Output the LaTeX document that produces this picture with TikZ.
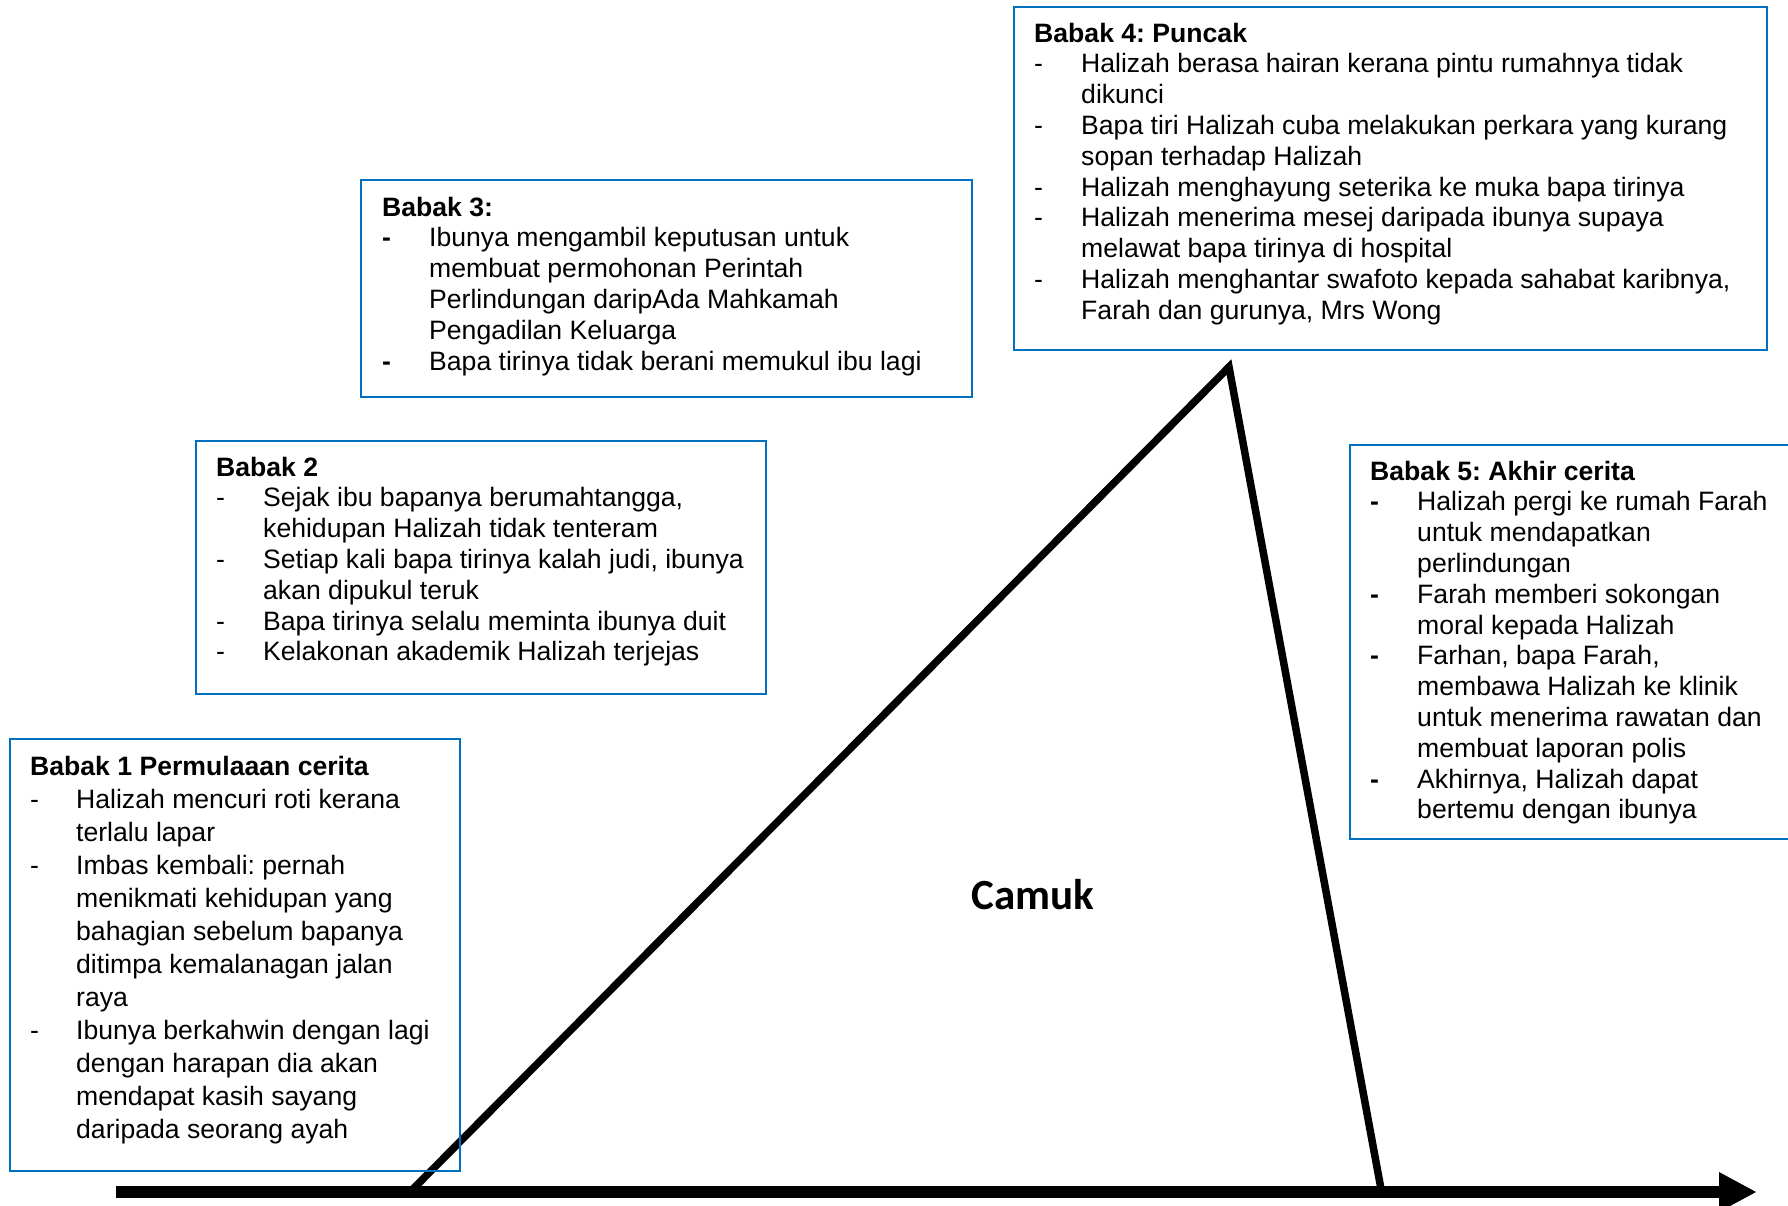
\documentclass[tikz,border=0pt]{standalone}
\usepackage{fontspec}
\setmainfont{Liberation Sans}
\newfontfamily\camukfont{Carlito}
\usepackage{array}
\frenchspacing
\definecolor{boxblue}{RGB}{0,112,192}
\tikzset{
  boxframe/.style={draw=boxblue, line width=2.2pt},
  boxtext/.style={anchor=base west, inner sep=0pt, font=\fontsize{26.6}{30.8}\selectfont},
  boxtextwide/.style={anchor=base west, inner sep=0pt, font=\fontsize{26.6}{33}\selectfont},
  plotline/.style={line width=7.5pt, line join=miter},
  axisline/.style={line width=12pt},
}
\newcommand{\ttl}[1]{\multicolumn{2}{@{}l@{}}{\textbf{#1}}}
\begin{document}
\begin{tikzpicture}[x=1pt,y=-1pt]
\useasboundingbox (0,0) rectangle (1788,1205);
\clip (0,0) rectangle (1788,1205);
\fill[white] (0,0) rectangle (1788,1205);

% axis
\coordinate (axstart) at (116,1192);
\coordinate (axend) at (1722,1192);
\coordinate (tip) at (1756,1192);
\draw[axisline] (axstart) -- (axend);
\fill (1719,1172) -- (tip) -- (1719,1212) -- cycle;

% triangle
\coordinate (footL) at (413,1189);
\coordinate (apex) at (1229,367);
\coordinate (footR) at (1381,1189);
\draw[plotline] (footL) -- (apex) -- (footR);

\node[font=\camukfont\bfseries\fontsize{43}{50}\selectfont] (camuk) at (1033,895) {Camuk};

% Box 1
\draw[boxframe] (10,739) rectangle (460,1171);
\node[boxtextwide] (b1) at (30,775) {\begin{tabular}[t]{@{}p{46pt}@{}l@{}}
\ttl{Babak 1 Permulaaan cerita}\\
- & Halizah mencuri roti kerana\\
& terlalu lapar\\
- & Imbas kembali: pernah\\
& menikmati kehidupan yang\\
& bahagian sebelum bapanya\\
& ditimpa kemalanagan jalan\\
& raya\\
- & Ibunya berkahwin dengan lagi\\
& dengan harapan dia akan\\
& mendapat kasih sayang\\
& daripada seorang ayah
\end{tabular}};

% Box 2
\draw[boxframe] (196,441) rectangle (766,694);
\node[boxtext] (b2) at (216,476) {\begin{tabular}[t]{@{}p{47pt}@{}l@{}}
\ttl{Babak 2}\\
- & Sejak ibu bapanya berumahtangga,\\
& kehidupan Halizah tidak tenteram\\
- & Setiap kali bapa tirinya kalah judi, ibunya\\
& akan dipukul teruk\\
- & Bapa tirinya selalu meminta ibunya duit\\
- & Kelakonan akademik Halizah terjejas
\end{tabular}};

% Box 3
\draw[boxframe] (361,180) rectangle (972,397);
\node[boxtext] (b3) at (382,216) {\begin{tabular}[t]{@{}p{47pt}@{}l@{}}
\ttl{Babak 3:}\\
\textbf{-} & Ibunya mengambil keputusan untuk\\
& membuat permohonan Perintah\\
& Perlindungan daripAda Mahkamah\\
& Pengadilan Keluarga\\
\textbf{-} & Bapa tirinya tidak berani memukul ibu lagi
\end{tabular}};

% Box 4
\draw[boxframe] (1014,7) rectangle (1767,350);
\node[boxtext] (b4) at (1034,42) {\begin{tabular}[t]{@{}p{47pt}@{}l@{}}
\ttl{Babak 4: Puncak}\\
- & Halizah berasa hairan kerana pintu rumahnya tidak\\
& dikunci\\
- & Bapa tiri Halizah cuba melakukan perkara yang kurang\\
& sopan terhadap Halizah\\
- & Halizah menghayung seterika ke muka bapa tirinya\\
- & Halizah menerima mesej daripada ibunya supaya\\
& melawat bapa tirinya di hospital\\
- & Halizah menghantar swafoto kepada sahabat karibnya,\\
& Farah dan gurunya, Mrs Wong
\end{tabular}};

% Box 5
\draw[boxframe] (1350,445) rectangle (1800,839);
\node[boxtext] (b5) at (1370,480) {\begin{tabular}[t]{@{}p{47pt}@{}l@{}}
\ttl{Babak 5: Akhir cerita}\\
\textbf{-} & Halizah pergi ke rumah Farah\\
& untuk mendapatkan\\
& perlindungan\\
\textbf{-} & Farah memberi sokongan\\
& moral kepada Halizah\\
\textbf{-} & Farhan, bapa Farah,\\
& membawa Halizah ke klinik\\
& untuk menerima rawatan dan\\
& membuat laporan polis\\
\textbf{-} & Akhirnya, Halizah dapat\\
& bertemu dengan ibunya
\end{tabular}};
\end{tikzpicture}
\end{document}
